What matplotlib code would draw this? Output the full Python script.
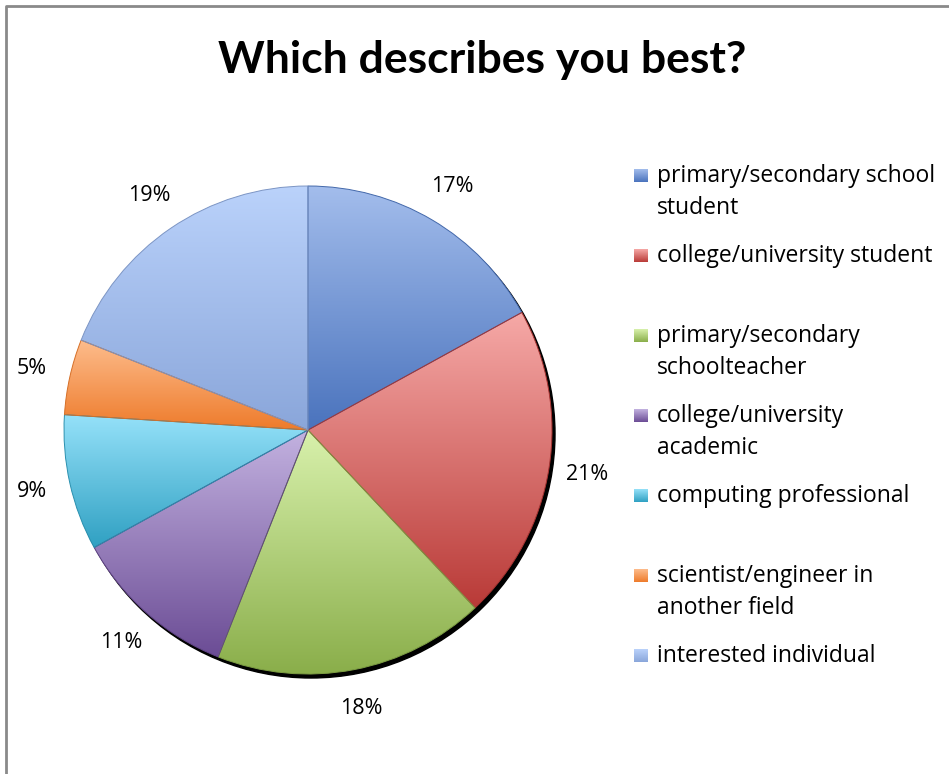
import numpy as np
import matplotlib
matplotlib.use('Agg')
import matplotlib.pyplot as plt
from matplotlib.colors import LinearSegmentedColormap, to_rgb
from matplotlib.patches import Circle

plt.rcParams['font.family'] = ['Open Sans', 'DejaVu Sans']

W, H = 949, 774

# survey answers, clockwise from 12 o'clock
categories = [
    'primary/secondary school\nstudent',
    'college/university student',
    'primary/secondary\nschoolteacher',
    'college/university\nacademic',
    'computing professional',
    'scientist/engineer in\nanother field',
    'interested individual',
]
shares = [17, 21, 18, 11, 9, 5, 19]

# light (top) and dark (bottom) end of each slice's gradient
top_colors = ['#a3bdec', '#f6a9a7', '#d8f1ac', '#c3b2e0', '#95e1f9', '#fdbc8c', '#bad2fb']
bottom_colors = ['#4a73bd', '#b93a37', '#8aae4a', '#6b4c95', '#2fa0c2', '#ee7b2b', '#8aa6da']


def darker(c, f=0.8):
    return tuple(v * f for v in to_rgb(c))


fig = plt.figure(figsize=(W / 100, H / 100), dpi=100)
ax = fig.add_axes([0, 0, 1, 1])

cx, cy, r = 308, H - 430, 244

# drop shadow behind the pie
ax.add_patch(Circle((cx + 3, cy - 4), r, color='black', zorder=1))

wedges, texts, pcts = ax.pie(
    shares, startangle=90, counterclock=False, center=(cx, cy), radius=r,
    autopct='%.0f%%', pctdistance=1.16, frame=True,
    wedgeprops=dict(linewidth=0.7),
    textprops=dict(fontsize=15.5, color='black'))

grad = np.linspace(1, 0, 256).reshape(-1, 1)
for w, c0, c1 in zip(wedges, top_colors, bottom_colors):
    x0, y0, x1, y1 = w.get_path().get_extents().extents
    cmap = LinearSegmentedColormap.from_list('slice', [c1, c0])
    im = ax.imshow(grad, cmap=cmap, extent=[x0, x1, y0, y1], origin='upper',
                   aspect='auto', interpolation='bilinear', zorder=2)
    im.set_clip_path(w)
    w.set_facecolor('none')
    w.set_edgecolor(darker(c1, 0.9))
    w.set_zorder(3)

ax.set_xlim(0, W)
ax.set_ylim(0, H)
ax.set_aspect('auto')
ax.axis('off')

# legend, drawn by hand so two-line entries keep the Excel spacing
lx, ly, step, line_h = 634, 176, 80, 32
for i, (label, c0, c1) in enumerate(zip(categories, top_colors, bottom_colors)):
    yc = H - (ly + i * step)
    cmap = LinearSegmentedColormap.from_list('key', [c1, c0])
    ax.imshow(grad, cmap=cmap, extent=[lx, lx + 14, yc - 6, yc + 7],
              origin='upper', aspect='auto', zorder=2)
    for j, line in enumerate(label.split('\n')):
        ax.text(lx + 23, yc - j * line_h, line, fontsize=16.5, va='center', ha='left')

# chart area border
ax.plot([6, 6, W], [0, H - 6, H - 6], color='#8a8a8a', lw=2, clip_on=False)

ax.text(482, H - 60, 'Which describes you best?', fontsize=32, fontweight='bold',
        family=['Lato', 'DejaVu Sans'], ha='center', va='center')

fig.savefig('out.png', dpi=100)
